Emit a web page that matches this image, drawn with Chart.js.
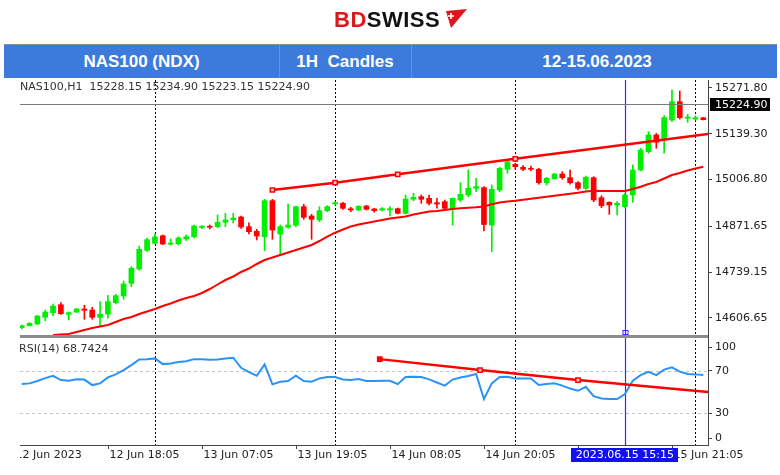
<!DOCTYPE html>
<html>
<head>
<meta charset="utf-8">
<title>NAS100 H1</title>
<script src="https://cdn.jsdelivr.net/npm/chart.js@4.4.0/dist/chart.umd.min.js"></script>
<style>
    body { margin: 0; background: #fff; width: 780px; height: 475px; overflow: hidden; position: relative; font-family: "Liberation Sans", Arial, sans-serif; }
    #chart { position: absolute; left: 0; top: 0; }
    #logo { position: absolute; left: 334px; top: 9px; height: 22px; line-height: 22px; font-size: 22px; font-weight: bold; letter-spacing: 0.5px; white-space: nowrap; }
    #logo .bd { color: #e0161e; }
    #logo .sw { color: #111; }
    #logo svg { position: absolute; left: 108px; top: 0; }
    #banner { position: absolute; left: 4px; top: 44px; width: 773px; height: 34px; background: #3c7bdc; border-top: 1px solid #8a8a8a; box-sizing: border-box; }
    #banner .cell { position: absolute; top: 0; height: 33px; line-height: 33px; color: #fff; font-size: 17px; font-weight: bold; text-align: center; white-space: nowrap; }
    #banner .div { position: absolute; top: 0; width: 1px; height: 33px; background: #5f93e4; }
</style>
</head>
<body>
<canvas id="chart" width="780" height="475"></canvas>

<div id="logo"><span class="bd">BD</span><span class="sw">SWISS</span><svg width="26" height="20" viewBox="0 0 26 20"><polygon points="4,2 25,0 9,19" fill="#e0161e"/><path d="M9 4 v6 M6 7 h6" stroke="#fff" stroke-width="1.6"/></svg></div>

<div id="banner">
    <div class="cell" style="left:0;width:275px">NAS100 (NDX)</div>
    <div class="div" style="left:275px"></div>
    <div class="cell" style="left:275px;width:132px">1H&nbsp; Candles</div>
    <div class="div" style="left:407px"></div>
    <div class="cell" style="left:413px;width:360px">12-15.06.2023</div>
</div>

<script>
// ------------------ DONNEES (bougies H1) ------------------
const opens = [
    14578.6, 14584.4, 14589.3, 14608.7, 14622.0, 14645.1, 14617.3, 14624.0, 14632.7, 14629.8,
    14608.7, 14618.2, 14650.9, 14670.3, 14707.0, 14748.3, 14802.4, 14822.7, 14844.4, 14820.1,
    14821.5, 14835.1, 14841.8, 14868.4, 14872.1, 14870.4, 14883.4, 14890.9, 14898.7, 14870.7,
    14857.4, 14841.8, 14945.9, 14849.6, 14868.9, 14874.7, 14928.5, 14901.6, 14890.1, 14917.0,
    14936.3, 14938.4, 14922.7, 14919.0, 14930.5, 14921.9, 14919.0, 14919.0, 14922.7, 14909.4,
    14949.9, 14957.4, 14952.8, 14940.1, 14943.0, 14921.9, 14947.9, 14962.4, 14981.7, 14983.5,
    14875.6, 14976.8, 15036.7, 15051.1, 15042.5, 15039.6, 15036.7, 14997.9, 15009.5, 15023.1,
    15012.4, 14997.9, 14981.7, 15012.4, 14954.5, 14941.2, 14933.4, 14928.5, 14962.4, 15034.7,
    15087.6, 15135.9, 15126.3, 15179.3, 15232.2, 15184.2, 15182.1, 15185.9
];
const highs = [
    14586.4, 14593.6, 14613.9, 14629.8, 14647.1, 14650.9, 14624.0, 14634.2, 14643.4, 14637.6,
    14653.8, 14672.3, 14675.2, 14713.6, 14755.0, 14814.9, 14838.0, 14849.6, 14846.7, 14835.1,
    14841.8, 14846.7, 14875.6, 14873.9, 14875.6, 14904.5, 14909.4, 14909.4, 14901.6, 14882.2,
    14863.2, 14949.9, 14949.9, 14875.6, 14936.3, 14930.5, 14935.5, 14906.5, 14928.5, 14931.4,
    14943.0, 14941.2, 14926.8, 14931.4, 14932.6, 14923.9, 14925.6, 14928.5, 14924.8, 14962.4,
    14967.3, 14962.4, 14962.4, 14952.8, 14947.9, 14953.7, 14997.9, 15034.7, 15010.7, 14986.9,
    14991.3, 15042.5, 15063.6, 15054.0, 15047.1, 15046.2, 15039.6, 15013.5, 15025.1, 15029.7,
    15034.7, 15000.8, 15017.3, 15015.3, 14960.3, 14943.0, 14943.0, 14967.3, 15049.1, 15097.4,
    15145.4, 15140.8, 15191.7, 15266.0, 15263.1, 15195.7, 15191.7, 15187.1
];
const lows = [
    14574.8, 14583.5, 14587.8, 14598.8, 14612.4, 14617.3, 14600.9, 14622.6, 14602.9, 14602.9,
    14581.5, 14605.8, 14647.1, 14660.7, 14697.2, 14744.6, 14799.5, 14820.6, 14819.2, 14817.8,
    14817.8, 14830.8, 14838.0, 14864.9, 14864.0, 14868.4, 14870.7, 14881.4, 14865.5, 14849.6,
    14832.2, 14801.3, 14834.2, 14788.8, 14866.1, 14870.7, 14892.1, 14834.2, 14885.1, 14914.1,
    14933.4, 14921.0, 14914.1, 14917.0, 14919.0, 14912.3, 14916.1, 14901.6, 14907.4, 14907.4,
    14945.9, 14938.4, 14933.4, 14923.9, 14919.0, 14875.6, 14943.0, 14957.4, 14971.9, 14858.2,
    14798.4, 14971.9, 15025.1, 15036.7, 15032.6, 15032.6, 14993.3, 14991.3, 15007.8, 15007.8,
    14993.3, 14976.8, 14978.8, 14943.0, 14925.6, 14906.5, 14904.5, 14925.6, 14941.2, 15031.8,
    15083.0, 15097.4, 15083.0, 15174.3, 15182.1, 15172.6, 15178.4, 15179.3
];
const closes = [
    14584.4, 14591.3, 14612.4, 14624.0, 14641.3, 14619.1, 14622.0, 14632.7, 14628.9, 14608.7,
    14617.3, 14653.8, 14671.1, 14705.0, 14750.4, 14805.3, 14833.1, 14840.9, 14820.6, 14823.5,
    14838.0, 14841.8, 14872.7, 14872.1, 14869.2, 14883.4, 14890.1, 14895.8, 14869.8, 14856.2,
    14843.8, 14945.9, 14861.1, 14870.7, 14875.6, 14928.5, 14897.9, 14892.1, 14917.0, 14928.5,
    14940.1, 14923.9, 14919.0, 14929.7, 14921.0, 14917.0, 14922.7, 14922.7, 14909.4, 14950.8,
    14955.7, 14949.9, 14938.4, 14936.3, 14923.9, 14952.8, 14964.4, 14981.7, 14986.4, 14877.0,
    14978.8, 15039.6, 15058.7, 15044.2, 15036.7, 15036.7, 14997.9, 15010.7, 15023.1, 15012.4,
    14997.9, 14981.7, 15013.5, 14947.9, 14931.4, 14933.4, 14938.4, 14962.4, 15034.7, 15092.5,
    15135.9, 15114.8, 15185.9, 15232.2, 15185.9, 15187.9, 15185.9, 15180.1
];

// Moyenne mobile (ligne rouge)
const maValues = [
    null, null, null, null, 14557.5, 14558.9, 14560.4, 14566.2, 14571.9, 14577.7,
    14582.1, 14586.4, 14595.1, 14603.8, 14609.5, 14618.2, 14625.4, 14632.7, 14641.3, 14648.6,
    14657.3, 14664.5, 14670.3, 14678.9, 14690.5, 14703.5, 14716.5, 14726.7, 14739.7, 14749.8,
    14762.8, 14774.4, 14781.6, 14788.8, 14796.1, 14803.3, 14810.5, 14817.8, 14829.3, 14842.3,
    14853.3, 14862.6, 14871.3, 14877.0, 14881.4, 14885.7, 14890.1, 14894.4, 14897.3, 14900.2,
    14906.0, 14910.3, 14914.6, 14916.1, 14919.0, 14921.9, 14923.9, 14925.3, 14926.8, 14929.1,
    14935.5, 14940.7, 14943.6, 14945.9, 14948.8, 14951.7, 14954.6, 14957.4, 14960.3, 14962.9,
    14965.8, 14968.7, 14972.5, 14974.8, 14973.9, 14973.9, 14973.9, 14973.9, 14979.7, 14986.4,
    14994.2, 15000.0, 15010.1, 15020.2, 15026.0, 15033.2, 15039.0, 15044.2
];

// RSI(14)
const rsiValues = [
    57.5, 58.2, 60.4, 63.2, 65.4, 61.3, 60.8, 62.0, 61.8, 56.6,
    58.2, 63.9, 66.7, 70.8, 75.5, 80.7, 81.1, 81.8, 76.4, 76.9,
    78.3, 79.2, 81.1, 80.9, 80.6, 80.8, 81.6, 82.4, 72.9, 68.9,
    65.4, 76.1, 57.3, 59.7, 60.4, 65.4, 60.4, 59.7, 62.9, 64.2,
    64.2, 61.8, 61.3, 62.3, 60.4, 60.4, 60.6, 60.7, 57.5, 64.2,
    64.4, 64.2, 62.0, 59.0, 56.1, 61.8, 63.7, 65.1, 67.0, 43.4,
    58.2, 64.2, 64.4, 62.9, 62.9, 62.9, 56.6, 57.5, 58.2, 56.1,
    53.3, 51.2, 55.0, 46.2, 43.9, 43.4, 43.4, 48.1, 60.8, 66.0,
    69.2, 66.0, 71.2, 73.3, 69.3, 67.0, 66.7, 66.0
];

// Lignes de tendance (ancres : index de bougie, valeur)
const trendIdx = [32, 40, 48, 63, 87.6];
const trendVal = [14976.8, 14997.9, 15022.2, 15067.0, 15138.8];
const rsiTrendIdx = [45.7, 58.5, 71, 87.6];
const rsiTrendVal = [81.1, 70.8, 61.3, 50.0];

// Axes
const priceTicks = [15271.80, 15139.30, 15006.80, 14871.65, 14739.15, 14606.65];
const rsiTickAt = [92.5, 70, 30, 6.5];
const rsiTickText = ['100', '70', '30', '0'];
const rsiLevels = [70, 30];
const xTickIdx = [-1, 11, 23, 35, 47, 59, 71, 83];
const xTickText = ['12 Jun 2023', '12 Jun 18:05', '13 Jun 07:05', '13 Jun 19:05', '14 Jun 08:05', '14 Jun 20:05', '15 Jun 09:05', '15 Jun 21:05'];
const separatorIdx = [17, 40, 63, 86];
const cursorIdx = 77;
const cursorText = '2023.06.15 15:15';
const bidPrice = 15224.90;
const headerText = 'NAS100,H1  15228.15 15234.90 15223.15 15224.90';
const rsiText = 'RSI(14) 68.7424';

// ------------------ STYLE ------------------
const UP = '#00ee00';
const DOWN = '#ff0000';
const FONT = "'DejaVu Sans', Verdana, sans-serif";
const candleColors = closes.map((c, i) => c >= opens[i] ? UP : DOWN);

// Dessins façon MT4 (séparateurs, curseur, ligne bid, libellés)
const mt4Overlay = {
    id: 'mt4Overlay',
    beforeDatasetsDraw(chart) {
        const { ctx, chartArea: a, scales: { x, yRsi } } = chart;
        ctx.save();
        ctx.lineWidth = 1;

        // niveaux RSI 70 / 30
        ctx.strokeStyle = '#c4c4c4';
        ctx.setLineDash([3, 3]);
        rsiLevels.forEach(v => {
            const py = Math.round(yRsi.getPixelForValue(v)) + 0.5;
            ctx.beginPath(); ctx.moveTo(a.left, py); ctx.lineTo(a.right, py); ctx.stroke();
        });

        // séparateurs de période
        ctx.strokeStyle = '#000';
        ctx.setLineDash([2, 2]);
        separatorIdx.forEach(i => {
            const px = Math.round(x.getPixelForValue(i)) + 0.5;
            ctx.beginPath(); ctx.moveTo(px, a.top); ctx.lineTo(px, a.bottom); ctx.stroke();
        });

        // ligne verticale du curseur
        ctx.setLineDash([]);
        ctx.strokeStyle = '#2f2fff';
        ctx.lineWidth = 1.2;
        const cx = Math.round(x.getPixelForValue(cursorIdx)) + 0.5;
        ctx.beginPath(); ctx.moveTo(cx, a.top); ctx.lineTo(cx, a.bottom); ctx.stroke();
        ctx.lineWidth = 1;
        ctx.strokeRect(cx - 2.5, yRsi.top - 6.5, 5, 4);
        ctx.restore();
    },
    afterDatasetsDraw(chart) {
        const { ctx, chartArea: a, scales: { y } } = chart;
        ctx.save();
        // ligne bid
        const by = Math.round(y.getPixelForValue(bidPrice)) + 0.5;
        ctx.strokeStyle = '#7a7a7a';
        ctx.lineWidth = 1;
        ctx.beginPath(); ctx.moveTo(a.left, by); ctx.lineTo(a.right, by); ctx.stroke();
        ctx.restore();
    },
    afterDraw(chart) {
        const { ctx, chartArea: a, scales: { x, y, yRsi } } = chart;
        ctx.save();

        // séparation des fenêtres
        ctx.fillStyle = '#8c8c8c';
        ctx.fillRect(a.left, yRsi.top - 2, a.right - a.left, 3);

        ctx.font = '11px ' + FONT;
        ctx.textBaseline = 'middle';

        // étiquette bid
        const by = Math.round(y.getPixelForValue(bidPrice));
        ctx.fillStyle = '#000';
        ctx.fillRect(a.right + 2, by - 6, 60, 13);
        ctx.fillStyle = '#fff';
        ctx.textAlign = 'left';
        ctx.fillText(bidPrice.toFixed(2), a.right + 7, by + 1);

        // textes d'en-tête
        ctx.fillStyle = '#333';
        ctx.fillText(headerText, a.left, 87);
        ctx.fillText(rsiText, a.left - 1, yRsi.top + 12);

        // axe du temps
        ctx.beginPath();
        ctx.rect(a.left, a.bottom, chart.width - a.left, chart.height - a.bottom);
        ctx.clip();
        ctx.strokeStyle = '#444';
        ctx.lineWidth = 1;
        xTickIdx.forEach((idx, k) => {
            const px = Math.round(x.getPixelForValue(idx)) + 0.5;
            ctx.beginPath(); ctx.moveTo(px, a.bottom); ctx.lineTo(px, a.bottom + 4); ctx.stroke();
            ctx.fillStyle = '#222';
            ctx.fillText(xTickText[k], px + 1, a.bottom + 10);
        });

        // boîte du curseur
        const cx = x.getPixelForValue(cursorIdx);
        const w = ctx.measureText(cursorText).width + 9;
        ctx.fillStyle = '#1010f0';
        ctx.fillRect(Math.round(cx - w / 2), a.bottom + 3, Math.round(w), 14);
        ctx.fillStyle = '#fff';
        ctx.textAlign = 'center';
        ctx.fillText(cursorText, cx, a.bottom + 10);
        ctx.restore();
    }
};

const axisFont = { family: FONT, size: 11 };

const ctx = document.getElementById('chart').getContext('2d');
new Chart(ctx, {
    type: 'bar',
    data: {
        datasets: [
            {
                type: 'line',
                label: 'MA',
                data: maValues.map((v, i) => ({ x: i, y: v })),
                borderColor: DOWN,
                borderWidth: 2,
                pointRadius: 0,
                tension: 0,
                yAxisID: 'y',
                order: -1
            },
            {
                type: 'line',
                label: 'Tendance',
                data: trendIdx.map((v, i) => ({ x: v, y: trendVal[i] })),
                borderColor: DOWN,
                borderWidth: 2.5,
                pointStyle: 'rect',
                pointRadius: [3, 3, 3, 3, 0],
                pointBackgroundColor: '#ffd0d0',
                pointBorderColor: DOWN,
                pointBorderWidth: 1.5,
                tension: 0,
                yAxisID: 'y',
                order: -2
            },
            {
                type: 'line',
                label: 'RSI',
                data: rsiValues.map((v, i) => ({ x: i, y: v })),
                borderColor: '#2a93f5',
                borderWidth: 2,
                pointRadius: 0,
                tension: 0,
                yAxisID: 'yRsi',
                order: -1
            },
            {
                type: 'line',
                label: 'Tendance RSI',
                data: rsiTrendIdx.map((v, i) => ({ x: v, y: rsiTrendVal[i] })),
                borderColor: DOWN,
                borderWidth: 2.5,
                pointStyle: 'rect',
                pointRadius: [3, 3, 3, 0],
                pointBackgroundColor: [DOWN, '#ffd0d0', '#ffd0d0', DOWN],
                pointBorderColor: DOWN,
                pointBorderWidth: 1.5,
                tension: 0,
                yAxisID: 'yRsi',
                order: -2
            },
            {
                label: 'Corps',
                data: opens.map((o, i) => ({ x: i, y: [o, closes[i]] })),
                backgroundColor: candleColors,
                borderWidth: 0,
                barThickness: 5,
                minBarLength: 1,
                grouped: false,
                yAxisID: 'y',
                order: 1
            },
            {
                label: 'Mèches',
                data: lows.map((l, i) => ({ x: i, y: [l, highs[i]] })),
                backgroundColor: candleColors,
                borderWidth: 0,
                barThickness: 1,
                grouped: false,
                yAxisID: 'y',
                order: 2
            }
        ]
    },
    options: {
        responsive: false,
        animation: false,
        events: [],
        layout: { padding: { left: 20, top: 80, right: 0, bottom: 0 } },
        plugins: { legend: { display: false }, tooltip: { enabled: false } },
        scales: {
            x: {
                type: 'linear',
                min: -0.22,
                max: 87.6,
                offset: false,
                ticks: { display: false },
                grid: { display: false },
                border: { display: true, color: '#444' },
                afterFit: s => { s.height = 30; }
            },
            y: {
                type: 'linear',
                position: 'right',
                stack: 'mt4',
                stackWeight: 257,
                min: 14551.7,
                max: 15294.9,
                afterBuildTicks: s => { s.ticks = priceTicks.map(v => ({ value: v })); },
                ticks: { font: axisFont, color: '#222', padding: 3, callback: v => Number(v).toFixed(2) },
                grid: { drawOnChartArea: false, tickLength: 4, color: '#444' },
                border: { color: '#444' },
                afterFit: s => { s.width = 72; }
            },
            yRsi: {
                type: 'linear',
                position: 'right',
                stack: 'mt4',
                stackWeight: 108,
                min: 0,
                max: 102,
                afterBuildTicks: s => { s.ticks = rsiTickAt.map(v => ({ value: v })); },
                ticks: { font: axisFont, color: '#222', padding: 3, callback: (v, i) => rsiTickText[i] },
                grid: { drawOnChartArea: false, tickLength: 4, color: '#444' },
                border: { color: '#444' },
                afterFit: s => { s.width = 72; }
            }
        }
    },
    plugins: [mt4Overlay]
});
</script>
</body>
</html>
